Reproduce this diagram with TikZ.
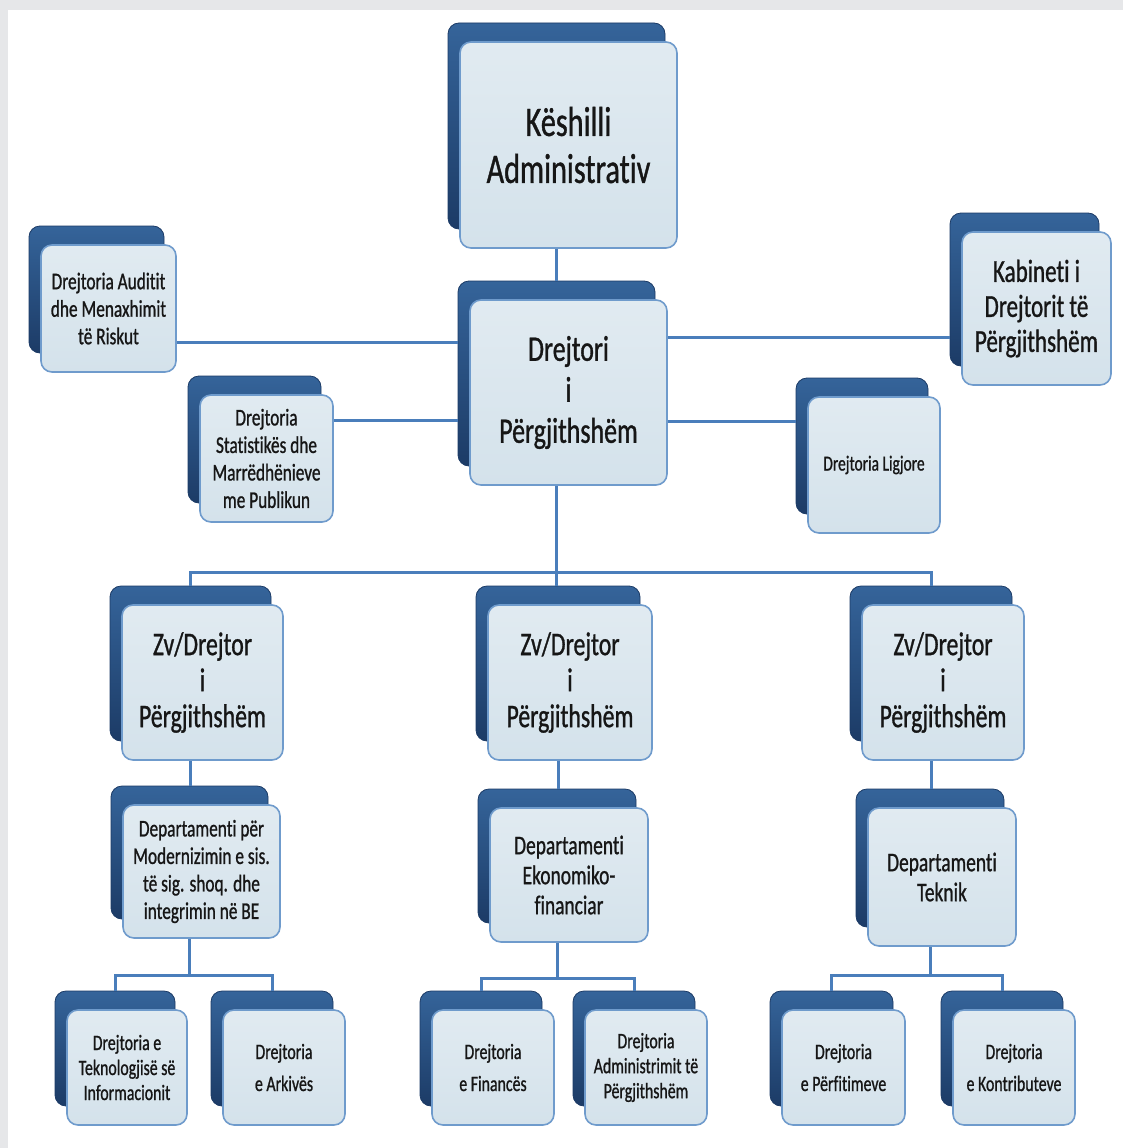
\documentclass[tikz,border=0pt]{standalone}
\usepackage{fontspec}
\setmainfont{Carlito}[FakeStretch=0.72, FakeBold=0.9, Ligatures=CommonOff]
\definecolor{cardfill}{HTML}{D4E2EB}
\definecolor{cardline}{HTML}{6F9BCC}
\definecolor{navytop}{HTML}{35649A}
\definecolor{navybot}{HTML}{1C3B66}
\definecolor{linkblue}{HTML}{4A7EBB}
\definecolor{framegray}{HTML}{E6E7E9}
\definecolor{inkdark}{HTML}{161616}

% one card = dark back plate + light front plate
\newcommand{\orgcard}[7][]{%
    \node[back, minimum width=#5pt, minimum height=#6pt] (#2-back) at (#3-12,#4-19) {};
    \node[front, minimum width=#5pt, minimum height=#6pt, #1] (#2) at (#3,#4) {#7};}

\begin{document}
\begin{tikzpicture}[
    x=1pt, y=-1pt,
    back/.style={rounded corners=11pt, top color=navytop, bottom color=navybot,
        draw=navybot, line width=0.8pt, inner sep=0pt},
    front/.style={rounded corners=11pt, top color=cardfill!70!white, bottom color=cardfill,
        draw=cardline, line width=1.6pt, inner sep=2pt, align=center,
        text=inkdark, font=\fontsize{22}{25}\selectfont},
    link/.style={draw=linkblue, line width=3pt},
    fhuge/.style={font=\fontsize{42}{47}\selectfont},
    fbig/.style={font=\fontsize{36}{41}\selectfont},
    fzv/.style={font=\fontsize{33}{36}\selectfont},
    fkab/.style={font=\fontsize{32}{35}\selectfont},
    fdep/.style={font=\fontsize{27}{30}\selectfont},
    fmid/.style={font=\fontsize{24}{27.5}\selectfont},
    fsmall/.style={font=\fontsize{21.5}{25}\selectfont},
    fpair/.style={font=\fontsize{22}{32}\selectfont}
]
    \useasboundingbox (0,0) rectangle (1123,1148);
    \fill[framegray] (0,0) rectangle (1123,1148);
    \fill[white] (8,10) rectangle (1123,1148);

    % top
    \orgcard[fhuge]{kesh}{568.5}{145}{217}{206}{Këshilli\\Administrativ}
    \orgcard[fbig]{drejt}{568.5}{392.5}{197}{185}{Drejtori\\i\\Përgjithshëm}
    \orgcard[fmid]{audit}{108.5}{308.5}{135}{127}{Drejtoria Auditit\\dhe Menaxhimit\\të Riskut}
    \orgcard[fmid]{stat}{266.5}{458.5}{133}{127}{Drejtoria\\Statistikës dhe\\Marrëdhënieve\\me Publikun}
    \orgcard[fkab]{kab}{1036.5}{308.5}{149}{153}{Kabineti i\\Drejtorit të\\Përgjithshëm}
    \orgcard[fsmall]{ligj}{874}{465}{132}{136}{Drejtoria Ligjore}

    % deputies
    \orgcard[fzv]{zvA}{202.5}{682.5}{161}{155}{Zv/Drejtor\\i\\Përgjithshëm}
    \orgcard[fzv]{zvB}{570}{682.5}{164}{155}{Zv/Drejtor\\i\\Përgjithshëm}
    \orgcard[fzv]{zvC}{943}{682.5}{162}{155}{Zv/Drejtor\\i\\Përgjithshëm}

    % departments
    \orgcard[fmid]{depA}{201.5}{871.5}{157}{133}{Departamenti për\\Modernizimin e sis.\\të sig. shoq. dhe\\integrimin në BE}
    \orgcard[fdep]{depB}{569}{875}{158}{134}{Departamenti\\Ekonomiko-\\financiar}
    \orgcard[fdep]{depC}{942}{877}{148}{138}{Departamenti\\Teknik}

    % directorates
    \orgcard{tek}{127}{1067.5}{120}{115}{Drejtoria e\\Teknologjisë së\\Informacionit}
    \orgcard[fpair]{ark}{284}{1067.5}{122}{115}{Drejtoria\\e Arkivës}
    \orgcard[fpair]{fin}{493}{1067.5}{122}{115}{Drejtoria\\e Financës}
    \orgcard{adm}{646}{1067.5}{122}{115}{Drejtoria\\Administrimit të\\Përgjithshëm}
    \orgcard[fpair]{perf}{843.5}{1067.5}{123}{115}{Drejtoria\\e Përfitimeve}
    \orgcard[fpair]{kontr}{1014}{1067.5}{122}{115}{Drejtoria\\e Kontributeve}

    \coordinate (busZ) at (556,572);
    \coordinate (busA) at (190,975);
    \coordinate (busB) at (556,978);
    \coordinate (busC) at (930,975);

    \draw[link] (kesh-back |- kesh.south) -- (kesh-back |- drejt-back.north);
    \draw[link] ([yshift=-34pt]audit.east) -- ([yshift=-34pt]audit.east -| drejt-back.west);
    \draw[link] ([yshift=38pt]stat.east) -- ([yshift=38pt]stat.east -| drejt-back.west);
    \draw[link] ([yshift=-48pt]kab-back.west) -- ([yshift=-48pt]kab-back.west -| drejt.east);
    \draw[link] ([yshift=25pt]ligj-back.west) -- ([yshift=25pt]ligj-back.west -| drejt.east);
    \draw[link] (drejt-back |- drejt.south) -- (drejt-back |- zvB-back.north);
    \draw[link] (zvA-back.north) |- (busZ) -| (zvC-back.north);
    \draw[link] (zvA-back |- zvA.south) -- (zvA-back |- depA-back.north);
    \draw[link] (zvB-back |- zvB.south) -- (zvB-back |- depB-back.north);
    \draw[link] (zvC-back |- zvC.south) -- (zvC-back |- depC-back.north);
    \draw[link] (depA-back |- depA.south) -- (depA-back |- busA);
    \draw[link] (depB-back |- depB.south) -- (depB-back |- busB);
    \draw[link] (depC-back |- depC.south) -- (depC-back |- busC);
    \draw[link] (tek-back.north) |- (busA) -| (ark-back.north);
    \draw[link] (fin-back.north) |- (busB) -| (adm-back.north);
    \draw[link] (perf-back.north) |- (busC) -| (kontr-back.north);
\end{tikzpicture}
\end{document}
